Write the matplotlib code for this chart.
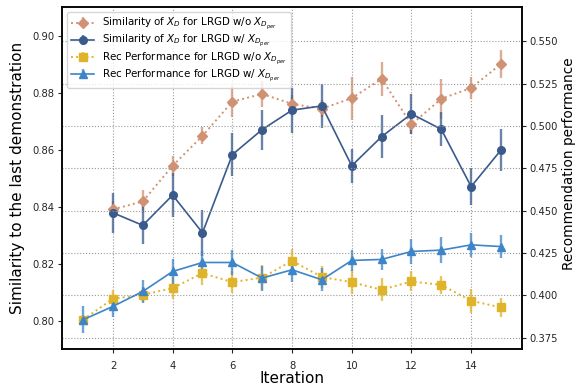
import numpy as np
import matplotlib
matplotlib.use("Agg")
import matplotlib.pyplot as plt
from matplotlib.colors import to_rgba

# iterations
it_sim = [2, 3, 4, 5, 6, 7, 8, 9, 10, 11, 12, 13, 14, 15]
it_rec = [1, 2, 3, 4, 5, 6, 7, 8, 9, 10, 11, 12, 13, 14, 15]

# similarity (left axis)
sim_wo = [0.8392, 0.8420, 0.8545, 0.8650, 0.8770, 0.8797, 0.8762, 0.8745, 0.8782, 0.8850, 0.8690, 0.8780, 0.8818, 0.8902]
sim_wo_err = [0.003, 0.004, 0.0035, 0.003, 0.0055, 0.0047, 0.003, 0.003, 0.0076, 0.006, 0.0035, 0.007, 0.004, 0.0048]
sim_w = [0.8380, 0.8336, 0.8442, 0.8310, 0.8584, 0.8672, 0.8740, 0.8755, 0.8545, 0.8647, 0.8727, 0.8673, 0.8472, 0.8600]
sim_w_err = [0.007, 0.0067, 0.0076, 0.008, 0.0075, 0.007, 0.0079, 0.0076, 0.006, 0.0076, 0.007, 0.006, 0.0064, 0.0074]

# rec performance (right axis)
rec_wo = [0.3856, 0.3980, 0.4003, 0.4043, 0.4131, 0.4078, 0.4105, 0.4204, 0.4108, 0.4078, 0.4033, 0.4082, 0.4062, 0.3968, 0.3929]
rec_wo_err = [0.003, 0.0054, 0.0044, 0.0064, 0.0069, 0.0064, 0.0074, 0.0071, 0.0064, 0.0069, 0.0069, 0.0059, 0.0054, 0.0071, 0.0054]
rec_w = [0.3856, 0.3935, 0.4023, 0.4141, 0.4194, 0.4194, 0.4102, 0.4151, 0.4092, 0.4206, 0.4212, 0.4259, 0.4267, 0.4298, 0.4288]
rec_w_err = [0.0079, 0.0064, 0.0069, 0.0074, 0.007, 0.0071, 0.0074, 0.0071, 0.0069, 0.0064, 0.0064, 0.0074, 0.0076, 0.0069, 0.0066]

c_tan = "#d09272"
c_dark = "#3a5a8c"
c_yel = "#e0b42a"
c_blue = "#3d85c8"

fig, ax = plt.subplots(figsize=(5.76, 3.87), dpi=100)
fig.subplots_adjust(left=0.108, right=0.906, top=0.982, bottom=0.098)
ax2 = ax.twinx()

l1 = ax.errorbar(it_sim, sim_wo, yerr=sim_wo_err, color=c_tan, ecolor=to_rgba(c_tan, 0.75),
                 elinewidth=1.7, marker="D", markersize=5.5, ls=":", lw=1.4,
                 label=r"Similarity of $X_D$ for LRGD w/o $X_{D_{per}}$")
l2 = ax.errorbar(it_sim, sim_w, yerr=sim_w_err, color=c_dark, ecolor=to_rgba(c_dark, 0.75),
                 elinewidth=1.7, marker="o", markersize=5.5, ls="-", lw=1.2,
                 label=r"Similarity of $X_D$ for LRGD w/ $X_{D_{per}}$")
l3 = ax2.errorbar(it_rec, rec_wo, yerr=rec_wo_err, color=c_yel, ecolor=to_rgba(c_yel, 0.75),
                  elinewidth=1.7, marker="s", markersize=5.5, ls=":", lw=1.4,
                  label=r"Rec Performance for LRGD w/o $X_{D_{per}}$")
l4 = ax2.errorbar(it_rec, rec_w, yerr=rec_w_err, color=c_blue, ecolor=to_rgba(c_blue, 0.75),
                  elinewidth=1.7, marker="^", markersize=5.5, ls="-", lw=1.2,
                  label=r"Rec Performance for LRGD w/ $X_{D_{per}}$")

ax.set_xlim(0.3, 15.7)
ax.set_ylim(0.7902, 0.9102)
ax2.set_ylim(0.3683, 0.5702)
ax.set_xticks([2, 4, 6, 8, 10, 12, 14])
ax.set_yticks([0.80, 0.82, 0.84, 0.86, 0.88, 0.90])
ax2.set_yticks([0.375, 0.400, 0.425, 0.450, 0.475, 0.500, 0.525, 0.550])

ax2.grid(True, ls=":", color="#999999", lw=0.8)
ax.xaxis.grid(True, ls=":", color="#999999", lw=0.8)

for a in (ax, ax2):
    a.tick_params(labelsize=7.2, labelcolor="#262626", color="#262626", length=3)
    a.tick_params(axis="y", pad=2.5)
    for s in a.spines.values():
        s.set_linewidth(1.1)
ax.tick_params(axis="x", pad=5.5)

ax.set_xlabel("Iteration", fontsize=11, labelpad=0)
ax.set_ylabel("Similarity to the last demonstration", fontsize=11, labelpad=5)
ax2.set_ylabel("Recommendation performance", fontsize=9.8, labelpad=3)
ax2.yaxis.label.set_y(0.541)

ax2.legend(handles=[l1, l2, l3, l4], loc="upper left", fontsize=7.4, framealpha=0.8,
           handlelength=2.2, labelspacing=0.1)

fig.savefig("out.png", dpi=100)
